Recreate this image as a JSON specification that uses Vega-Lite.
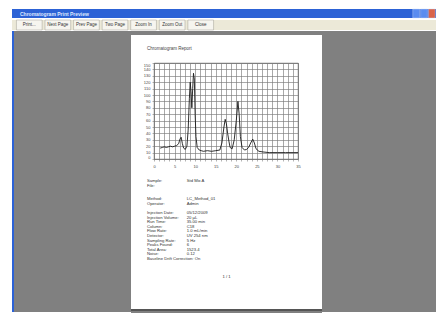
{
  "$schema": "https://vega.github.io/schema/vega-lite/v6.json",
  "background": "white",
  "padding": {"left": 12, "top": 8, "right": 0, "bottom": 0},
  "config": {"view": {"stroke": null}, "font": "Liberation Sans"},
  "spacing": 0,
  "vconcat": [
    {
      "spacing": 0,
      "hconcat": [
        {
          "width": 400, "height": 9,
          "view": {"fill": "#2c62d6"},
          "data": {"values": [{"label": "Chromatogram Print Preview"}]},
          "mark": {"type": "text", "align": "left", "baseline": "middle", "dx": 8, "fontSize": 5, "fontWeight": "bold", "color": "#dfe8ff"},
          "encoding": {
            "x": {"datum": 0, "type": "quantitative", "scale": {"domain": [0, 1]}, "axis": null},
            "text": {"field": "label"}
          }
        },
        {
          "width": 24, "height": 9,
          "view": {"fill": "#2c62d6"},
          "data": {"values": [{"k": "min"}, {"k": "max"}, {"k": "close"}]},
          "mark": {"type": "bar", "stroke": "#c9d8f7", "strokeWidth": 0.4},
          "encoding": {
            "x": {"field": "k", "type": "nominal", "sort": null, "scale": {"paddingInner": 0.15, "paddingOuter": 0.1}, "axis": null},
            "color": {"field": "k", "type": "nominal", "scale": {"domain": ["min", "max", "close"], "range": ["#5a8cf0", "#5a8cf0", "#d9634a"]}, "legend": null}
          }
        }
      ]
    },
    {
      "spacing": 0,
      "hconcat": [
        {"width": 3, "height": 10, "view": {"fill": "#ece9d8"}, "data": {"values": []}, "mark": "point"},
        {
          "width": 200, "height": 10,
          "view": {"fill": "#ece9d8"},
          "data": {"values": [
            {"b": "Print..."}, {"b": "Next Page"}, {"b": "Prev Page"}, {"b": "Two Page"},
            {"b": "Zoom In"}, {"b": "Zoom Out"}, {"b": "Close"}
          ]},
          "layer": [
            {
              "mark": {"type": "bar", "fill": "#f6f5ef", "stroke": "#a09f94", "strokeWidth": 0.5},
              "encoding": {"x": {"field": "b", "type": "nominal", "sort": null, "scale": {"paddingInner": 0.1, "paddingOuter": 0.05}, "axis": null}}
            },
            {
              "mark": {"type": "text", "fontSize": 4.5, "color": "#333"},
              "encoding": {
                "x": {"field": "b", "type": "nominal", "sort": null, "axis": null},
                "text": {"field": "b"}
              }
            }
          ]
        },
        {"width": 221, "height": 10, "view": {"fill": "#ece9d8"}, "data": {"values": []}, "mark": "point"}
      ]
    },
    {
      "spacing": 0,
      "hconcat": [
        {"width": 2, "height": 281, "view": {"fill": "#2c62d6"}, "data": {"values": []}, "mark": "point"},
        {"width": 117, "height": 281, "view": {"fill": "#808080"}, "data": {"values": []}, "mark": "point"},
        {
          "spacing": 0,
          "vconcat": [
            {"width": 191, "height": 4, "view": {"fill": "#808080"}, "data": {"values": []}, "mark": "point"},
            {
              "width": 191, "height": 27,
              "data": {"values": [{"ttl": "Chromatogram Report"}]},
              "mark": {"type": "text", "align": "left", "baseline": "middle", "fontSize": 4.5, "color": "#444"},
              "encoding": {
                "x": {"datum": "label", "type": "nominal", "scale": {"type": "point", "domain": ["label", "value", "page", "c4", "c5"], "padding": 0.4}, "axis": null},
                "text": {"field": "ttl"}
              }
            },
            {
              "spacing": 0,
              "hconcat": [
                {"width": 1, "height": 96, "data": {"values": []}, "mark": "point"},
                {
                  "width": 144, "height": 96,
                  "view": {"stroke": "#444", "strokeWidth": 0.8},
                  "data": {"values": [
                    {"t": 1.5, "mv": 17}, {"t": 2, "mv": 18}, {"t": 2.5, "mv": 19}, {"t": 3, "mv": 18},
                    {"t": 3.5, "mv": 19}, {"t": 4, "mv": 20}, {"t": 4.5, "mv": 19}, {"t": 5, "mv": 20},
                    {"t": 5.5, "mv": 21}, {"t": 6, "mv": 24}, {"t": 6.3, "mv": 31}, {"t": 6.6, "mv": 34},
                    {"t": 6.9, "mv": 24}, {"t": 7.2, "mv": 17}, {"t": 7.6, "mv": 15}, {"t": 8, "mv": 20},
                    {"t": 8.3, "mv": 45}, {"t": 8.6, "mv": 95}, {"t": 8.8, "mv": 120}, {"t": 9, "mv": 105},
                    {"t": 9.2, "mv": 80}, {"t": 9.4, "mv": 110}, {"t": 9.6, "mv": 134}, {"t": 9.8, "mv": 125},
                    {"t": 10, "mv": 70}, {"t": 10.2, "mv": 35}, {"t": 10.5, "mv": 18}, {"t": 11, "mv": 14},
                    {"t": 11.5, "mv": 13}, {"t": 12, "mv": 12}, {"t": 13, "mv": 13}, {"t": 14, "mv": 12},
                    {"t": 15, "mv": 13}, {"t": 16, "mv": 14}, {"t": 16.5, "mv": 25}, {"t": 17, "mv": 50},
                    {"t": 17.3, "mv": 62}, {"t": 17.6, "mv": 55}, {"t": 17.9, "mv": 40}, {"t": 18.2, "mv": 28},
                    {"t": 18.5, "mv": 18}, {"t": 19, "mv": 16}, {"t": 19.5, "mv": 30}, {"t": 20, "mv": 60},
                    {"t": 20.4, "mv": 90}, {"t": 20.7, "mv": 70}, {"t": 21, "mv": 35}, {"t": 21.4, "mv": 18},
                    {"t": 22, "mv": 14}, {"t": 22.5, "mv": 15}, {"t": 23, "mv": 18}, {"t": 23.5, "mv": 25},
                    {"t": 24, "mv": 31}, {"t": 24.4, "mv": 25}, {"t": 24.8, "mv": 16}, {"t": 25.5, "mv": 12},
                    {"t": 26.5, "mv": 11}, {"t": 28, "mv": 10}, {"t": 30, "mv": 10}, {"t": 32, "mv": 10},
                    {"t": 34, "mv": 10}, {"t": 35, "mv": 10}
                  ]},
                  "mark": {"type": "line", "color": "#1a1a1a", "strokeWidth": 0.9},
                  "encoding": {
                    "x": {
                      "field": "t", "type": "quantitative",
                      "scale": {"domain": [0, 35], "nice": false},
                      "axis": {
                        "values": [0, 1.25, 2.5, 3.75, 5, 6.25, 7.5, 8.75, 10, 11.25, 12.5, 13.75, 15, 16.25, 17.5, 18.75, 20, 21.25, 22.5, 23.75, 25, 26.25, 27.5, 28.75, 30, 31.25, 32.5, 33.75, 35],
                        "labelExpr": "datum.value % 5 === 0 ? datum.label : ''",
                        "labelFontSize": 4, "labelColor": "#444", "labelPadding": 3, "labelOverlap": false, "labelFlush": false,
                        "tickSize": 2, "tickColor": "#666", "tickWidth": 0.5,
                        "gridColor": "#7a7a7a", "gridWidth": 0.65, "gridOpacity": 1,
                        "domain": false, "title": null, "minExtent": 12
                      }
                    },
                    "y": {
                      "field": "mv", "type": "quantitative",
                      "scale": {"domain": [0, 150], "nice": false},
                      "axis": {
                        "values": [0, 10, 20, 30, 40, 50, 60, 70, 80, 90, 100, 110, 120, 130, 140, 150],
                        "labelFontSize": 4, "labelColor": "#444", "labelPadding": 2, "labelOverlap": false, "labelFlush": true,
                        "tickSize": 2, "tickColor": "#666", "tickWidth": 0.5,
                        "gridColor": "#7a7a7a", "gridWidth": 0.65, "gridOpacity": 1,
                        "domain": false, "title": null, "minExtent": 21
                      }
                    }
                  }
                }
              ]
            },
            {
              "width": 191, "height": 137,
              "data": {"values": [
                {"line": 4, "col": "label", "txt": "Sample:"}, {"line": 4, "col": "value", "txt": "Std Mix A"},
                {"line": 5, "col": "label", "txt": "File:"},
                {"line": 8, "col": "label", "txt": "Method:"}, {"line": 8, "col": "value", "txt": "LC_Method_01"},
                {"line": 9, "col": "label", "txt": "Operator:"}, {"line": 9, "col": "value", "txt": "Admin"},
                {"line": 11, "col": "label", "txt": "Injection Date:"}, {"line": 11, "col": "value", "txt": "05/12/2009"},
                {"line": 12, "col": "label", "txt": "Injection Volume:"}, {"line": 12, "col": "value", "txt": "20 µL"},
                {"line": 13, "col": "label", "txt": "Run Time:"}, {"line": 13, "col": "value", "txt": "35.00 min"},
                {"line": 14, "col": "label", "txt": "Column:"}, {"line": 14, "col": "value", "txt": "C18"},
                {"line": 15, "col": "label", "txt": "Flow Rate:"}, {"line": 15, "col": "value", "txt": "1.0 mL/min"},
                {"line": 16, "col": "label", "txt": "Detector:"}, {"line": 16, "col": "value", "txt": "UV 254 nm"},
                {"line": 17, "col": "label", "txt": "Sampling Rate:"}, {"line": 17, "col": "value", "txt": "5 Hz"},
                {"line": 18, "col": "label", "txt": "Peaks Found:"}, {"line": 18, "col": "value", "txt": "6"},
                {"line": 19, "col": "label", "txt": "Total Area:"}, {"line": 19, "col": "value", "txt": "1523.4"},
                {"line": 20, "col": "label", "txt": "Noise:"}, {"line": 20, "col": "value", "txt": "0.12"},
                {"line": 21, "col": "label", "txt": "Baseline Drift Correction: On"},
                {"line": 25, "col": "page", "txt": "1 / 1"}
              ]},
              "layer": [
                {
                  "transform": [{"filter": "datum.col != 'page'"}],
                  "mark": {"type": "text", "align": "left", "baseline": "middle", "fontSize": 4.2, "color": "#333"},
                  "encoding": {
                    "x": {"field": "col", "type": "nominal", "scale": {"type": "point", "domain": ["label", "value", "page", "c4", "c5"], "padding": 0.4}, "axis": null},
                    "y": {"field": "line", "type": "quantitative", "scale": {"domain": [3.7, 31.1], "reverse": true}, "axis": null},
                    "text": {"field": "txt"}
                  }
                },
                {
                  "transform": [{"filter": "datum.col == 'page'"}],
                  "mark": {"type": "text", "align": "center", "baseline": "middle", "fontSize": 4.2, "color": "#333"},
                  "encoding": {
                    "x": {"field": "col", "type": "nominal", "axis": null},
                    "y": {"field": "line", "type": "quantitative", "axis": null},
                    "text": {"field": "txt"}
                  }
                }
              ]
            },
            {"width": 191, "height": 2, "view": {"fill": "#555555"}, "data": {"values": []}, "mark": "point"},
            {"width": 191, "height": 3, "view": {"fill": "#808080"}, "data": {"values": []}, "mark": "point"}
          ]
        },
        {"width": 114, "height": 281, "view": {"fill": "#808080"}, "data": {"values": []}, "mark": "point"}
      ]
    },
    {"width": 424, "height": 6, "view": {"fill": "#ece9d8"}, "data": {"values": []}, "mark": "point"}
  ]
}
